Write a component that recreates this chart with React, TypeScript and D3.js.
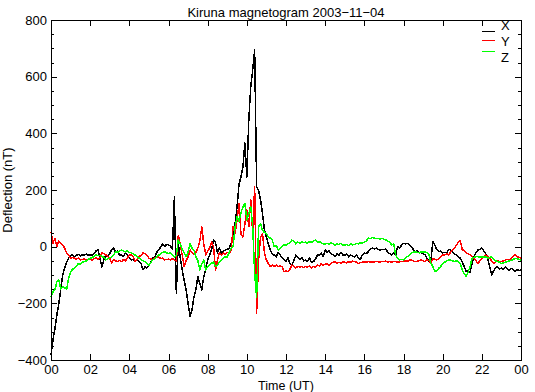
import React, { useEffect, useRef } from "react";
import * as d3 from "d3";

const title = "Kiruna magnetogram 2003−11−04";
const xAxisLabel = "Time (UT)";
const yAxisLabel = "Deflection (nT)";
const hourTicks = [0, 2, 4, 6, 8, 10, 12, 14, 16, 18, 20, 22, 24];
const hourLabels = ["00", "02", "04", "06", "08", "10", "12", "14", "16", "18", "20", "22", "00"];
const deflectionTicks = [-400, -200, 0, 200, 400, 600, 800];
const deflectionMinorTicks = [-350, -300, -250, -150, -100, -50, 50, 100, 150, 250, 300, 350, 450, 500, 550, 650, 700, 750];
const seriesNames = ["X", "Y", "Z"];
const seriesColors = ["#000000", "#ff0000", "#00ff00"];

// samples every 6 minutes, 00:00 to 24:00
const sampleHours = d3.range(241).map((i) => i / 10);

const xComponent = [
  -382, -330, -290, -240, -200, -150, -100, -75, -55, -40,
  -32, -28, -35, -30, -27, -33, -29, -31, -26, -30,
  -28, -32, -25, -15, -10, -40, -72, -45, -30, -35,
  -25, -10, -5, -20, -15, -30, -28, -35, -22, -30,
  -40, -47, -45, -50, -48, -52, -60, -82, -70, -75,
  -65, -55, -40, -36, -20, -10, -2, 10, 0, 8,
  6, 2, -10, 175, -163, 13, -40, -82, -120, -153,
  -200, -247, -224, -177, -150, -106, -130, -153, -106, -80,
  -47, -30, -10, 23, 16, -22, -5, -22, -15, -12,
  -10, -5, 12, 34, 80, 140, 220, 246, 280, 366,
  246, 447, 564, 624, 694, 210, 200, 165, 117, 58,
  34, 10, -12, -25, -30, -36, -20, -29, -40, -45,
  -53, -40, -60, -65, -50, -30, -36, -45, -38, -50,
  -47, -53, -40, -55, -53, -45, -30, -29, -22, -35,
  -12, -20, -15, -25, -29, -36, -25, -32, -20, -29,
  -30, -25, -36, -29, -33, -36, -29, -40, -45, -29,
  -22, -25, -18, -10, -5, -8, -5, -10, -12, -10,
  -10, -8, -20, -25, -29, -22, -29, 0, -5, 5,
  12, 10, 12, 5, 0, -10, -18, -15, -22, -20,
  -25, -29, -41, -53, -47, 18, 5, -10, -18, -15,
  -22, -20, -22, -10, -10, -20, -25, -30, -35, -41,
  -55, -70, -88, -85, -90, -60, -35, -20, -12, -10,
  -5, -15, -25, -41, -70, -100, -85, -75, -70, -78,
  -76, -80, -72, -78, -85, -76, -82, -88, -80, -85,
  -82,
];

const yComponent = [
  52, 12, 30, 0, 20, 12, 5, -5, -22, -30,
  -41, -38, -41, -44, -40, -47, -45, -42, -47, -44,
  -45, -47, -42, -40, -45, -38, -22, -25, -29, -35,
  -40, -59, -45, -50, -53, -48, -53, -45, -50, -40,
  -29, -30, -35, -53, -45, -35, -30, -22, -25, -30,
  -41, -43, -47, -40, -38, -36, -42, -40, -47, -45,
  -44, -47, -42, -47, -50, 40, 10, -30, -70, -50,
  -36, -12, -20, -29, -20, -5, 20, 70, 10, -29,
  -15, -5, 16, 0, -82, -47, -22, -30, -22, -28,
  -20, -25, -10, 70, 45, 94, 152, 45, 34, 80,
  129, 70, 165, 45, 210, -235, -47, 34, 45, -22,
  -47, -60, -70, -65, -70, -65, -70, -68, -70, -88,
  -85, -88, -80, -65, -70, -75, -70, -72, -70, -74,
  -70, -72, -68, -76, -70, -72, -65, -68, -60, -65,
  -62, -60, -65, -58, -55, -53, -58, -55, -59, -53,
  -55, -57, -53, -55, -51, -53, -55, -59, -56, -55,
  -53, -55, -52, -54, -53, -55, -52, -53, -54, -52,
  -53, -51, -54, -53, -55, -52, -53, -55, -54, -52,
  -53, -50, -52, -48, -47, -50, -53, -51, -49, -47,
  -50, -53, -47, -50, -59, -41, -45, -47, -44, -35,
  -29, -30, -25, -29, -20, -12, -5, 5, 16, 22,
  -10, -15, -22, -25, -29, -35, -41, -50, -59, -50,
  -41, -35, -29, -35, -40, -50, -59, -55, -50, -53,
  -53, -50, -47, -45, -47, -40, -35, -29, -35, -38,
  -41,
];

const zComponent = [
  -177, -160, -153, -124, -118, -150, -141, -145, -150, -112,
  -88, -80, -76, -70, -59, -62, -55, -53, -50, -45,
  -41, -38, -35, -29, -32, -30, -35, -38, -47, -43,
  -40, -35, -30, -18, -20, -15, -12, -15, -18, -15,
  -20, -22, -25, -30, -36, -40, -45, -50, -53, -60,
  -65, -55, -47, -42, -36, -30, -25, -20, -18, -22,
  -24, -20, -30, -36, -30, 23, 10, -10, -20, -36,
  -20, 10, -5, -12, -36, -50, -82, -60, -47, -82,
  -70, -65, -59, -53, -70, -65, -55, -47, -40, -36,
  -36, -20, -5, 0, 70, 105, 90, 120, 140, 152,
  94, 117, 140, 70, -94, -177, 70, 82, 58, 50,
  45, 34, 30, 23, 0, 5, -12, -5, 0, 6,
  6, 10, 15, 23, 20, 10, 16, 12, 18, 14,
  16, 12, 18, 15, 20, 23, 16, 18, 14, 10,
  10, 12, 8, 14, 10, 6, 10, 8, 12, 6,
  6, 8, 4, 10, 6, 8, 12, 10, 14, 12,
  16, 20, 30, 28, 32, 30, 28, 30, 27, 30,
  26, 24, 20, 16, 6, 10, -29, -41, -47, -45,
  -47, -40, -35, -29, -22, -20, -18, -20, -22, -18,
  -20, -18, -22, -29, -59, -70, -88, -85, -76, -70,
  -59, -55, -50, -47, -47, -50, -53, -50, -53, -60,
  -82, -95, -106, -90, -70, -41, -38, -35, -35, -38,
  -35, -38, -35, -40, -38, -35, -45, -50, -53, -55,
  -59, -57, -55, -53, -50, -48, -45, -41, -43, -45,
  -47,
];

const components = [xComponent, yComponent, zComponent];

function App() {
  const ref = useRef<SVGSVGElement>(null);

  useEffect(() => {
    const svg = d3.select(ref.current);
    svg.selectAll("*").remove();
    const width = 535;
    const height = 392;
    const margin = { left: 51, top: 20, right: 14, bottom: 32 };
    const innerWidth = width - margin.left - margin.right;
    const innerHeight = height - margin.top - margin.bottom;
    const font = "'Liberation Sans', Arial, Helvetica, sans-serif";

    const xScale = d3.scaleLinear().domain([0, 24]).range([0, innerWidth]);
    const yScale = d3.scaleLinear().domain([-400, 800]).range([innerHeight, 0]);

    const g = svg
      .append("g")
      .attr("transform", `translate(${margin.left},${margin.top})`);

    const line = d3
      .line<number>()
      .x((d, i) => xScale(sampleHours[i]))
      .y((d) => yScale(d));

    components.forEach((values, i) => {
      g.append("path")
        .datum(values)
        .attr("d", line)
        .attr("fill", "none")
        .attr("stroke", seriesColors[i])
        .attr("stroke-width", 1.5)
        .attr("stroke-linejoin", "round")
        .attr("shape-rendering", "crispEdges");
    });

    // frame
    g.append("rect")
      .attr("x", 0)
      .attr("y", 0)
      .attr("width", innerWidth)
      .attr("height", innerHeight)
      .attr("fill", "none")
      .attr("stroke", "black")
      .attr("shape-rendering", "crispEdges");

    const styleAxis = (sel) => {
      sel.select(".domain").remove();
      sel.selectAll("line").attr("stroke", "black").attr("shape-rendering", "crispEdges");
      sel.selectAll("text")
        .attr("fill", "black")
        .attr("font-family", font)
        .attr("font-size", 13);
    };

    const xAxisG = g
      .append("g")
      .attr("transform", `translate(0,${innerHeight})`)
      .call(
        d3.axisBottom(xScale)
          .tickValues(hourTicks)
          .tickSize(-6)
          .tickSizeOuter(0)
          .tickPadding(5)
          .tickFormat((d, i) => hourLabels[i])
      );
    styleAxis(xAxisG);

    const xTopG = g
      .append("g")
      .call(d3.axisTop(xScale).tickValues(hourTicks).tickSize(-6).tickSizeOuter(0).tickFormat(() => ""));
    styleAxis(xTopG);

    const yAxisG = g
      .append("g")
      .call(
        d3.axisLeft(yScale)
          .tickValues(deflectionTicks)
          .tickSize(-6)
          .tickSizeOuter(0)
          .tickPadding(4)
          .tickFormat(d3.format("d"))
      );
    styleAxis(yAxisG);

    const yMinorG = g
      .append("g")
      .call(d3.axisLeft(yScale).tickValues(deflectionMinorTicks).tickSize(-3).tickSizeOuter(0).tickFormat(() => ""));
    styleAxis(yMinorG);

    const yRightG = g
      .append("g")
      .attr("transform", `translate(${innerWidth},0)`)
      .call(d3.axisRight(yScale).tickValues(deflectionTicks).tickSize(-6).tickSizeOuter(0).tickFormat(() => ""));
    styleAxis(yRightG);

    const yRightMinorG = g
      .append("g")
      .attr("transform", `translate(${innerWidth},0)`)
      .call(d3.axisRight(yScale).tickValues(deflectionMinorTicks).tickSize(-3).tickSizeOuter(0).tickFormat(() => ""));
    styleAxis(yRightMinorG);

    // legend
    const legendLineY = [11, 20, 31];
    const legendTextY = [10, 26, 42];
    seriesNames.forEach((name, i) => {
      g.append("line")
        .attr("x1", 431)
        .attr("x2", 444)
        .attr("y1", legendLineY[i] + 0.5)
        .attr("y2", legendLineY[i] + 0.5)
        .attr("stroke", seriesColors[i]);
      g.append("text")
        .text(name)
        .attr("x", 450)
        .attr("y", legendTextY[i])
        .attr("font-family", font)
        .attr("font-size", 13)
        .attr("fill", "black");
    });

    svg.append("text")
      .text(title)
      .attr("x", margin.left + innerWidth / 2)
      .attr("y", 17)
      .attr("text-anchor", "middle")
      .attr("font-family", font)
      .attr("font-size", 13);

    svg.append("text")
      .text(xAxisLabel)
      .attr("x", margin.left + innerWidth / 2)
      .attr("y", 389.5)
      .attr("text-anchor", "middle")
      .attr("font-family", font)
      .attr("font-size", 12.5);

    svg.append("text")
      .text(yAxisLabel)
      .attr("transform", `translate(12,${margin.top + innerHeight / 2}) rotate(-90)`)
      .attr("text-anchor", "middle")
      .attr("font-family", font)
      .attr("font-size", 13);
  }, []);

  return (
    <svg
      ref={ref}
      width={535}
      height={392}
      style={{ position: "absolute", left: 0, top: 0, display: "block", background: "white" }}
    />
  );
}

export default App;
